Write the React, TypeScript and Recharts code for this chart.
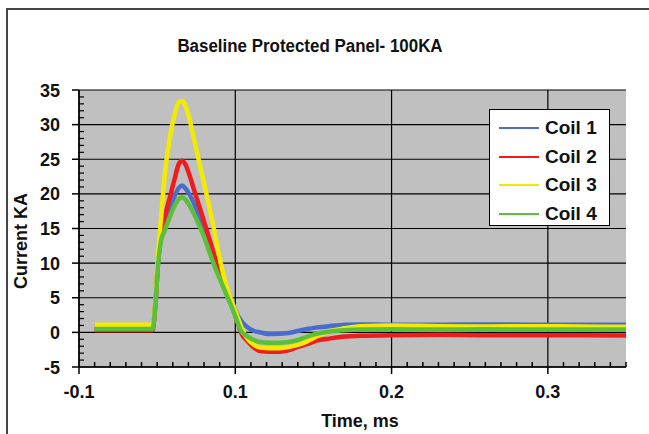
import React from "react";
import { LineChart, Line, XAxis, YAxis, CartesianGrid, Legend } from "recharts";

// time axis, ms
const timeMs = [
  0.01, 0.02, 0.03, 0.04, 0.047, 0.049, 0.0505, 0.0525, 0.055, 0.058, 0.061,
  0.064, 0.066, 0.068, 0.071, 0.074, 0.077, 0.08, 0.083, 0.086, 0.089, 0.092,
  0.095, 0.098, 0.101, 0.104, 0.108, 0.112, 0.116, 0.122, 0.128, 0.134, 0.14,
  0.146, 0.152, 0.16, 0.17, 0.18, 0.2, 0.23, 0.26, 0.29, 0.32, 0.35,
];

// current, KA
const coil1 = [
  0.8, 0.8, 0.8, 0.8, 0.8, 4.5, 9.8, 13.8, 15.5, 17.8, 19.6, 20.9, 21.2, 20.8,
  19.8, 18.4, 16.8, 15.0, 13.0, 11.0, 9.1, 7.4, 5.8, 4.3, 2.7, 1.6, 0.7, 0.2,
  0.0, -0.25, -0.2, -0.1, 0.2, 0.5, 0.7, 0.9, 1.1, 1.15, 1.1, 1.1, 1.15, 1.1,
  1.1, 1.1,
];
const coil2 = [
  0.3, 0.3, 0.3, 0.3, 0.3, 4.5, 10, 14.3, 16.8, 19.4, 22, 24.4, 24.8, 24.3,
  22.5, 20.3, 18.2, 16.0, 13.8, 11.6, 9.4, 7.5, 5.7, 3.9, 1.8, -0.2, -1.3,
  -2.2, -2.7, -2.8, -2.8, -2.6, -2.1, -1.7, -1.2, -0.9, -0.6, -0.5, -0.4,
  -0.35, -0.4, -0.4, -0.4, -0.45,
];
const coil3 = [
  1.1, 1.1, 1.1, 1.1, 1.1, 5, 11, 16.5, 23, 28, 31.3, 33.3, 33.4, 32.8, 30.5,
  27.5, 24.5, 21.5, 18.5, 15.3, 11.8, 8.7, 6.2, 4.3, 2.5, 0.7, -1.0, -1.8,
  -2.2, -2.3, -2.3, -2.1, -1.8, -1.3, -0.6, 0.1, 0.6, 0.9, 1.0, 0.9, 0.85, 0.9,
  0.85, 0.8,
];
const coil4 = [
  0.5, 0.5, 0.5, 0.5, 0.5, 4.5, 9.5, 13.2, 14.8, 16.6, 18.2, 19.3, 19.5, 19.2,
  18.2, 16.9, 15.4, 13.8, 11.9, 10.0, 8.3, 6.7, 5.1, 3.5, 1.7, 0.1, -0.6, -1.1,
  -1.4, -1.5, -1.5, -1.4, -1.1, -0.6, -0.2, 0.1, 0.3, 0.4, 0.45, 0.4, 0.45,
  0.4, 0.4, 0.4,
];

const seriesKeys = ["c1", "c2", "c3", "c4"];
const seriesNames = ["Coil 1", "Coil 2", "Coil 3", "Coil 4"];
const seriesColors = ["#4a6ccc", "#f01c1c", "#f2ea00", "#5cbf3c"];

const yMajorTicks = [-5, 0, 5, 10, 15, 20, 25, 30, 35];
const xMajorTicks = [0, 0.1, 0.2, 0.3];
const xTickLabels = ["-0.1", "0.1", "0.2", "0.3"];

const yMinorTicks: number[] = [];
for (let v = -5; v <= 35; v++) yMinorTicks.push(v);
const xMinorTicks: number[] = [];
for (let i = 0; i <= 35; i++) xMinorTicks.push(i / 100);

const data = timeMs.map((t, i) => ({
  t,
  c1: coil1[i],
  c2: coil2[i],
  c3: coil3[i],
  c4: coil4[i],
}));

const FONT = "'Liberation Sans', Arial, sans-serif";

const XTick = (props: any) => {
  const { x, y, payload } = props;
  const idx = xMajorTicks.findIndex((m) => Math.abs(m - payload.value) < 1e-9);
  if (idx < 0) {
    return <line x1={x} x2={x} y1={y} y2={y - 5} stroke="#000" strokeWidth={1.5} />;
  }
  return (
    <g>
      <line x1={x} x2={x} y1={y} y2={y + 7} stroke="#000" strokeWidth={1.5} />
      <text
        x={x}
        y={y + 31}
        textAnchor="middle"
        fontFamily={FONT}
        fontWeight="bold"
        fontSize={18}
        fill="#111"
      >
        {xTickLabels[idx]}
      </text>
    </g>
  );
};

const YTick = (props: any) => {
  const { x, y, payload } = props;
  const major = yMajorTicks.includes(payload.value);
  if (!major) {
    return <line x1={x} x2={x + 5} y1={y} y2={y} stroke="#000" strokeWidth={1.2} />;
  }
  return (
    <g>
      <line x1={x - 7} x2={x} y1={y} y2={y} stroke="#000" strokeWidth={1.5} />
      <text
        x={x - 19}
        y={y + 6.5}
        textAnchor="end"
        fontFamily={FONT}
        fontWeight="bold"
        fontSize={18}
        fill="#111"
      >
        {payload.value}
      </text>
    </g>
  );
};

const LegendBox = () => (
  <div
    style={{
      width: 121,
      height: 117,
      border: "1px solid #000",
      background: "#fff",
      boxSizing: "border-box",
      paddingTop: 4,
    }}
  >
    {seriesNames.map((name, i) => (
      <div
        key={name}
        style={{ display: "flex", alignItems: "center", height: 28.5 }}
      >
        <svg width={50} height={10} style={{ marginLeft: 9 }}>
          <line x1={0} x2={40} y1={5} y2={5} stroke={seriesColors[i]} strokeWidth={2} />
        </svg>
        <span
          style={{
            fontFamily: FONT,
            fontWeight: "bold",
            fontSize: 19,
            color: "#111",
            marginLeft: -4,
          }}
        >
          {name}
        </span>
      </div>
    ))}
  </div>
);

export default function App() {
  return (
    <div
      style={{
        position: "absolute",
        left: 0,
        top: 0,
        width: 649,
        height: 434,
        overflow: "hidden",
        background: "#fff",
      }}
    >
      <div
        style={{
          position: "absolute",
          left: 6,
          top: 8,
          width: 700,
          height: 500,
          borderLeft: "2px solid #444",
          borderTop: "2px solid #444",
        }}
      />
      <div
        style={{
          position: "absolute",
          left: 0,
          top: 36,
          width: 620,
          textAlign: "center",
          fontFamily: FONT,
          fontWeight: "bold",
          fontSize: 18,
          color: "#111",
          transform: "scaleX(0.94)",
          transformOrigin: "310px 0",
        }}
      >
        Baseline Protected Panel- 100KA
      </div>
      <div
        style={{
          position: "absolute",
          left: 21,
          top: 241,
          transform: "translate(-50%, -50%) rotate(-90deg)",
          whiteSpace: "nowrap",
          fontFamily: FONT,
          fontWeight: "bold",
          fontSize: 18,
          color: "#111",
        }}
      >
        Current KA
      </div>
      <div
        style={{
          position: "absolute",
          left: 360,
          top: 421,
          transform: "translate(-50%, -50%)",
          whiteSpace: "nowrap",
          fontFamily: FONT,
          fontWeight: "bold",
          fontSize: 18,
          color: "#111",
        }}
      >
        Time, ms
      </div>
      <div style={{ position: "absolute", left: 0, top: 0 }}>
        <LineChart
          width={649}
          height={434}
          data={data}
          margin={{ top: 90, right: 23, bottom: 0, left: 0 }}
        >
          <CartesianGrid
            fill="#c0c0c0"
            stroke="#000"
            strokeWidth={1.2}
            horizontalValues={yMajorTicks}
            verticalValues={xMajorTicks}
          />
          <XAxis
            type="number"
            dataKey="t"
            domain={[0, 0.35]}
            ticks={xMinorTicks}
            interval={0}
            height={67}
            tickSize={0}
            tickMargin={0}
            tickLine={false}
            axisLine={{ stroke: "#000", strokeWidth: 1.5 }}
            tick={<XTick />}
          />
          <YAxis
            type="number"
            domain={[-5, 35]}
            ticks={yMinorTicks}
            interval={0}
            width={79}
            tickSize={0}
            tickMargin={0}
            tickLine={false}
            axisLine={{ stroke: "#000", strokeWidth: 1.5 }}
            tick={<YTick />}
          />
          {seriesKeys.map((k, i) => (
            <Line
              key={k}
              type="monotone"
              dataKey={k}
              name={seriesNames[i]}
              stroke={seriesColors[i]}
              strokeWidth={4.5}
              dot={false}
              activeDot={false}
              isAnimationActive={false}
            />
          ))}
          <Legend
            layout="vertical"
            align="center"
            verticalAlign="middle"
            wrapperStyle={{ left: 489, top: 109, width: 121 }}
            content={() => <LegendBox />}
          />
        </LineChart>
      </div>
    </div>
  );
}
